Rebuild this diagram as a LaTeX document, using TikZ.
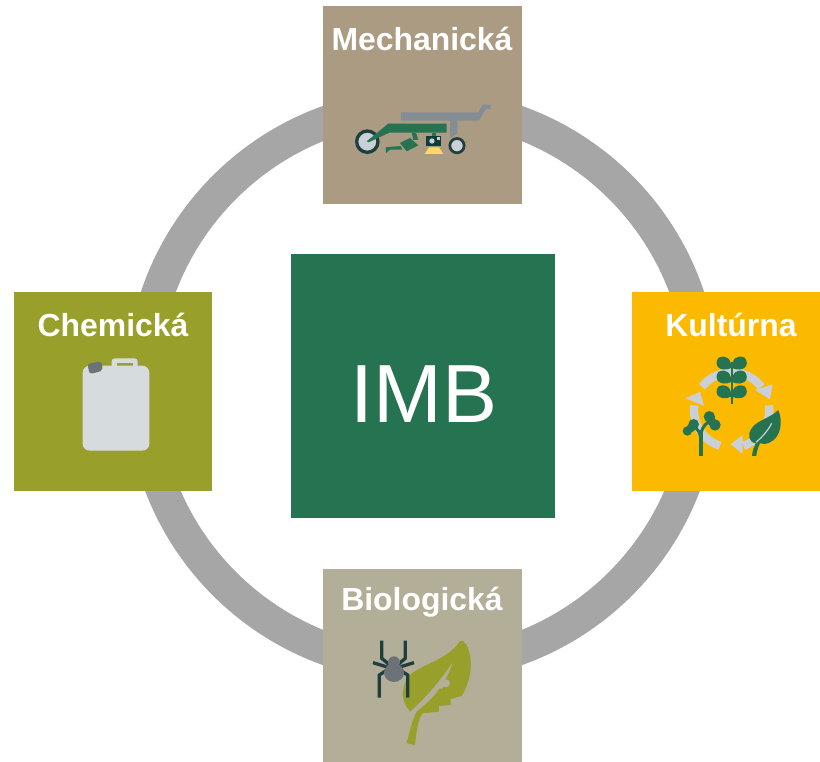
\documentclass[tikz,border=0pt]{standalone}
\usepackage{fontspec}
\setmainfont{Liberation Sans}
\usetikzlibrary{positioning}
\definecolor{imbgreen}{HTML}{257350}
\definecolor{ringgrey}{HTML}{A6A6A6}
\definecolor{mechbrown}{HTML}{AB9B82}
\definecolor{chemolive}{HTML}{98A02B}
\definecolor{kultyellow}{HTML}{FBB900}
\definecolor{biosand}{HTML}{B3AE98}
\definecolor{iconlight}{HTML}{C9D0D8}
\definecolor{jugwhite}{HTML}{D6DBDE}
\definecolor{icongrey}{HTML}{858D94}
\definecolor{capgrey}{HTML}{6B7378}
\definecolor{icondark}{HTML}{1F3F3F}
\definecolor{camdark}{HTML}{0F3D3A}
\definecolor{shareyellow}{HTML}{FFD966}
\tikzset{areabox/.style={rectangle,draw=none,inner sep=0pt,minimum width=199pt,minimum height=199pt}}
\tikzset{areatitle/.style={text=white,inner sep=0pt,font=\bfseries\fontsize{31.9}{36}\selectfont}}
\tikzset{iconscope/.style={x=0.3333pt,y=-0.3333pt}}

\begin{document}
\begin{tikzpicture}[x=1pt,y=-1pt]
        \useasboundingbox (0,0) rectangle (820,762);

        \node[circle,draw=ringgrey,line width=33pt,inner sep=0pt,outer sep=0pt,minimum size=560.4pt] (ring) at (422.5,385.5) {};

        \node[areabox,fill=imbgreen,minimum width=264pt,minimum height=264pt] (boxIMB) at (423,386) {};
        \node[text=white,inner sep=0pt,font=\fontsize{82.5}{90}\selectfont] (textIMB) at (424,394) {IMB};

        \node[areabox,fill=mechbrown,minimum height=198pt] (boxMech) at (422.5,105) {};
        \node[areabox,fill=chemolive,minimum width=198pt] (boxChem) at (113,391.5) {};
        \node[areabox,fill=kultyellow,minimum width=188pt] (boxKult) at (726,391.5) {};
        \node[areabox,fill=biosand,minimum height=193pt] (boxBio) at (422.5,665.5) {};

        \node[areatitle] (textMech) at (422,39) {Mechanická};
        \node[areatitle] (textChem) at (113,325) {Chemická};
        \node[areatitle] (textKult) at (731,325) {Kultúrna};
        \node[areatitle] (textBio) at (422,602) {Biologická};

        % mechanical
        \begin{scope}[shift={(340,90)},iconscope]
            \fill[icongrey] (183,67) -- (415,67) -- (428,44) -- (452,44) -- (452,57) -- (437,57) -- (417,92) -- (352,92) -- (352,130) -- (330,145) -- (330,92) -- (183,92) -- cycle;
            \draw[icondark,line width=3.3pt,fill=iconlight] (82,155) circle (32);
            \draw[icondark,line width=2.7pt,fill=iconlight] (351,167) circle (21.5);
            \fill[imbgreen] (80,154) -- (145,101) -- (320,101) -- (320,128) -- (148,128) -- (86,157) -- cycle;
            \fill[imbgreen] (215,128) -- (228,128) -- (235,149) -- (220,150) -- cycle;
            \fill[imbgreen] (180,159) -- (210,144) -- (235,166) -- (200,184) -- cycle;
            \fill[imbgreen] (137,172) -- (182,168) -- (187,179) -- (150,179) -- (138,189) -- cycle;
            \fill[imbgreen] (277,128) rectangle (287,140);
            \fill[camdark] (258,138) rectangle (303,168);
            \fill[iconlight] (276,153) circle (8);
            \fill[iconlight] (292,141) rectangle (300,149);
            \fill[shareyellow] (267,172) -- (297,172) -- (310,192) -- (254,192) -- cycle;
        \end{scope}

        % chemical
        \begin{scope}[shift={(70,350)},iconscope]
            \fill[jugwhite,rounded corners=3pt] (125,60) -- (125,25) -- (203,25) -- (203,60) -- cycle;
            \fill[chemolive] (140,40) rectangle (188,47);
            \fill[jugwhite,rounded corners=7pt] (38,47) rectangle (238,302);
            \fill[capgrey,rounded corners=2pt] (53,42) -- (90,34) -- (97,40) -- (97,62) -- (62,72) -- (57,66) -- cycle;
        \end{scope}

        % cultural
        \begin{scope}[shift={(670,355)},iconscope]
            \draw[iconlight,line width=8.3pt] ([shift={(218:113)}]185,165) arc[start angle=218,end angle=322,radius=113];
            \fill[iconlight] (255,105) -- (308,88) -- (300,133) -- cycle;
            \draw[iconlight,line width=8.3pt] ([shift={(-7:113)}]185,165) arc[start angle=-7,end angle=72,radius=113];
            \fill[iconlight] (218,240) -- (182,268) -- (218,297) -- cycle;
            \draw[iconlight,line width=8.3pt] ([shift={(108:113)}]185,165) arc[start angle=108,end angle=187,radius=113];
            \fill[iconlight] (47,130) -- (90,110) -- (102,152) -- cycle;
            % wheat
            \fill[imbgreen] (182,20) rectangle (188,147);
            \foreach \ytop in {8,50,94} {
                \fill[imbgreen] (184,\ytop+31) .. controls (150,\ytop+46) and (128,\ytop+22) .. (146,\ytop) .. controls (170,\ytop-10) and (184,\ytop+4) .. cycle;
                \fill[imbgreen] (186,\ytop+31) .. controls (220,\ytop+46) and (242,\ytop+22) .. (224,\ytop) .. controls (200,\ytop-10) and (186,\ytop+4) .. cycle;
            }
            % sprout
            \fill[imbgreen] (87,225) rectangle (98,303);
            \draw[imbgreen,line width=3pt] (92,250) .. controls (92,225) and (100,212) .. (116,200);
            \draw[imbgreen,line width=3pt] (92,250) .. controls (90,232) and (84,222) .. (70,215);
            \fill[imbgreen] (118,185) circle (17);
            \fill[imbgreen] (135,210) circle (17);
            \fill[imbgreen] (124,198) circle (14);
            \fill[imbgreen] (71,208) circle (16);
            \fill[imbgreen] (52,228) circle (14);
            \fill[imbgreen] (63,219) circle (13);
            % leaf
            \fill[imbgreen] (246,303) .. controls (248,285) and (252,275) .. (258,265) .. controls (235,262) and (232,238) .. (245,220) .. controls (262,195) and (300,190) .. (325,165) .. controls (340,200) and (332,248) .. (300,262) .. controls (288,268) and (278,268) .. (270,265) .. controls (264,278) and (260,290) .. (259,303) -- cycle;
            \draw[iconlight,line width=1.2pt] (258,262) .. controls (278,245) and (295,225) .. (305,205);
        \end{scope}

        % biological
        \begin{scope}[shift={(360,630)},iconscope]
            % leaf
            \fill[chemolive] (150,245) .. controls (125,215) and (120,180) .. (145,140) .. controls (175,105) and (265,90) .. (298,35) .. controls (305,28) and (315,35) .. (322,50) .. controls (340,90) and (335,150) .. (305,198) -- (272,207) -- (272,225) -- (237,228) -- (237,245) -- (188,250) .. controls (175,265) and (170,300) .. (165,345) -- (140,340) .. controls (150,300) and (155,275) .. (170,245) .. controls (215,210) and (262,160) .. (278,95) .. controls (248,145) and (195,205) .. cycle;
            \fill[biosand] (258,160) circle (12);
            \fill[biosand] (238,170) -- (252,155) -- (256,165) -- (244,178) -- cycle;
            % spider
            \begin{scope}[icondark,line width=3.3pt,line cap=butt,line join=miter]
                \draw (65,32) -- (65,85) -- (90,105);
                \draw (136,32) -- (136,85) -- (112,105);
                \draw (39,98) -- (62,105) -- (85,112);
                \draw (162,98) -- (139,105) -- (116,112);
                \draw (58,203) -- (58,135) -- (85,118);
                \draw (143,203) -- (143,135) -- (116,118);
            \end{scope}
            \fill[capgrey] (102,97) circle (18);
            \fill[capgrey] (102,128) ellipse (30 and 28);
        \end{scope}
\end{tikzpicture}
\end{document}
